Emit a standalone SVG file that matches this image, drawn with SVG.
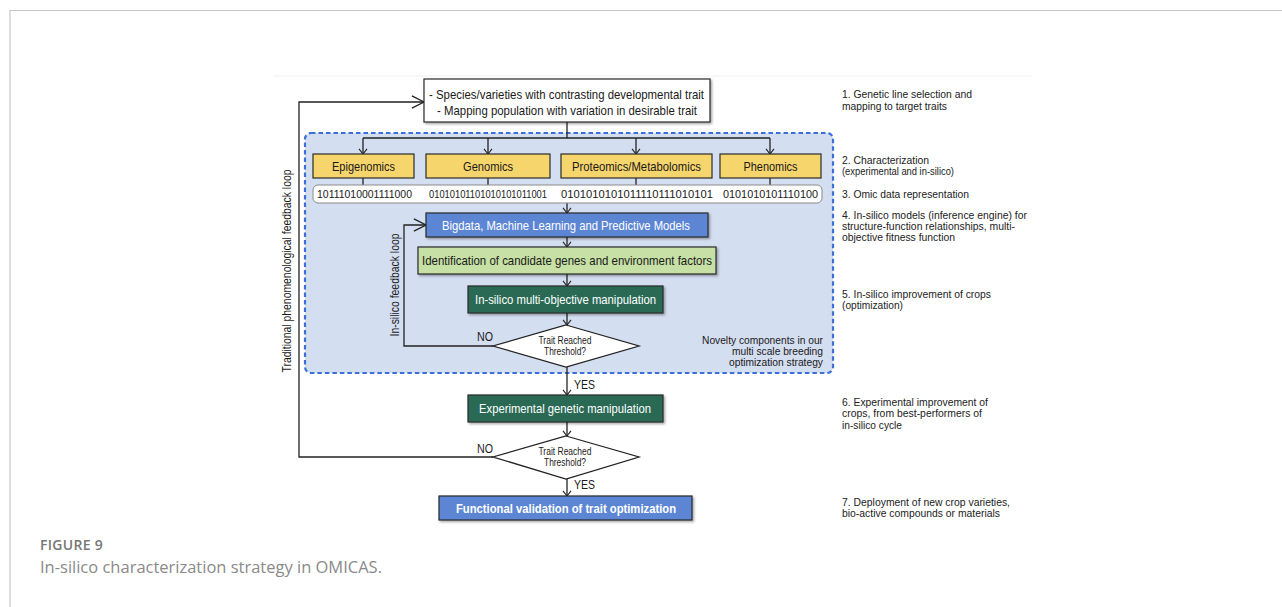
<svg xmlns="http://www.w3.org/2000/svg" width="1282" height="607" viewBox="0 0 1282 607">
<style>
.t{font-family:"Liberation Sans",Arial,sans-serif;fill:#1a1a1a}
.w{font-family:"Liberation Sans",Arial,sans-serif;fill:#ffffff}
.box{stroke:#2a2a2a;stroke-width:1.2}
.ln{fill:none;stroke:#222;stroke-width:1.3}
.side{font-family:"Liberation Sans",Arial,sans-serif;font-size:11px;fill:#222}
</style>
<defs>
<filter id="sh" x="-5%" y="-10%" width="110%" height="130%">
<feDropShadow dx="1.5" dy="1.5" stdDeviation="0.8" flood-color="#000" flood-opacity="0.35"/>
</filter>
<marker id="as" markerUnits="userSpaceOnUse" markerWidth="6" markerHeight="10" viewBox="0 0 6 10" refX="5.6" refY="5" orient="auto">
<path d="M0.5,1 L5.6,5 L0.5,9" fill="none" stroke="#222" stroke-width="1.1"/>
</marker>
<marker id="ab" markerUnits="userSpaceOnUse" markerWidth="13" markerHeight="14" viewBox="0 0 13 14" refX="12.6" refY="7" orient="auto">
<path d="M0.5,0.8 L12.6,7 L0.5,13.2" fill="none" stroke="#222" stroke-width="1.3"/>
</marker>
</defs>
<rect width="1282" height="607" fill="#ffffff"/>
<path d="M10,607 V10.5 H1282" fill="none" stroke="#c8c8c8" stroke-width="1.2"/>
<line x1="273" y1="76" x2="1032" y2="76" stroke="#f0f0f0" stroke-width="1"/>

<g id="novelty-region">
<rect x="305" y="133" width="528" height="240" rx="6" fill="#d4def1" stroke="#3a70d8" stroke-width="2.2" stroke-dasharray="4.5,3"/>
<text class="t" font-size="11" text-anchor="end" x="823" y="344" textLength="121" lengthAdjust="spacingAndGlyphs">Novelty components in our</text>
<text class="t" font-size="11" text-anchor="end" x="823" y="355" textLength="91" lengthAdjust="spacingAndGlyphs">multi scale breeding</text>
<text class="t" font-size="11" text-anchor="end" x="823" y="366" textLength="94" lengthAdjust="spacingAndGlyphs">optimization strategy</text>
</g>

<g id="connectors">
<path class="ln" d="M567,122 V138"/>
<path class="ln" d="M363,138 H770"/>
<path class="ln" d="M363,138 V154" marker-end="url(#as)"/>
<path class="ln" d="M488,138 V154" marker-end="url(#as)"/>
<path class="ln" d="M636,138 V154" marker-end="url(#as)"/>
<path class="ln" d="M770,138 V154" marker-end="url(#as)"/>
<path class="ln" d="M363,178 V185"/>
<path class="ln" d="M488,178 V185"/>
<path class="ln" d="M636,178 V185"/>
<path class="ln" d="M770,178 V185"/>
<path class="ln" d="M567,203 V213" marker-end="url(#as)"/>
<path class="ln" d="M567,237 V247" marker-end="url(#as)"/>
<path class="ln" d="M567,274 V286" marker-end="url(#as)"/>
<path class="ln" d="M567,313 V325" marker-end="url(#as)"/>
<path class="ln" d="M493,346 H404 V225 H426" marker-end="url(#ab)"/>
<path class="ln" d="M567,367 V395" marker-end="url(#as)"/>
<path class="ln" d="M567,422 V436" marker-end="url(#as)"/>
<path class="ln" d="M493,457 H299 V102 H424" marker-end="url(#ab)"/>
<path class="ln" d="M567,479 V496" marker-end="url(#as)"/>
<text class="t" font-size="12" x="477" y="341" textLength="16" lengthAdjust="spacingAndGlyphs">NO</text>
<text class="t" font-size="12" x="574" y="389" textLength="21" lengthAdjust="spacingAndGlyphs">YES</text>
<text class="t" font-size="12" x="477" y="453" textLength="16" lengthAdjust="spacingAndGlyphs">NO</text>
<text class="t" font-size="12" x="574" y="489" textLength="21" lengthAdjust="spacingAndGlyphs">YES</text>
<text class="t" font-size="12" text-anchor="middle" transform="translate(399,285) rotate(-90)" textLength="103" lengthAdjust="spacingAndGlyphs">In-silico feedback loop</text>
<text class="t" font-size="12" text-anchor="middle" transform="translate(291,271) rotate(-90)" textLength="203" lengthAdjust="spacingAndGlyphs">Traditional phenomenological feedback loop</text>
</g>

<g id="genetic-lines">
<rect class="box" x="424" y="79" width="286" height="43" fill="#ffffff" filter="url(#sh)"/>
<text class="t" font-size="13.5" x="429" y="98.5" textLength="275" lengthAdjust="spacingAndGlyphs">- Species/varieties with contrasting developmental trait</text>
<text class="t" font-size="13.5" x="437" y="114.5" textLength="260" lengthAdjust="spacingAndGlyphs">- Mapping population with variation in desirable trait</text>
</g>

<g id="epigenomics">
<rect class="box" x="313" y="154" width="101" height="24" fill="#f7d56d"/>
<text class="t" font-size="13" text-anchor="middle" x="363.5" y="170.5" textLength="63" lengthAdjust="spacingAndGlyphs">Epigenomics</text>
</g>
<g id="genomics">
<rect class="box" x="426" y="154" width="124" height="24" fill="#f7d56d"/>
<text class="t" font-size="13" text-anchor="middle" x="488" y="170.5" textLength="50" lengthAdjust="spacingAndGlyphs">Genomics</text>
</g>
<g id="proteomics">
<rect class="box" x="561" y="154" width="151" height="24" fill="#f7d56d"/>
<text class="t" font-size="13" text-anchor="middle" x="636.5" y="170.5" textLength="129" lengthAdjust="spacingAndGlyphs">Proteomics/Metabolomics</text>
</g>
<g id="phenomics">
<rect class="box" x="720" y="154" width="101" height="24" fill="#f7d56d"/>
<text class="t" font-size="13" text-anchor="middle" x="770.5" y="170.5" textLength="54" lengthAdjust="spacingAndGlyphs">Phenomics</text>
</g>

<g id="omic-data">
<rect x="313" y="185" width="509" height="18" rx="5" fill="#ffffff" stroke="#8a8a8a" stroke-width="1"/>
<text class="t" font-size="10.5" x="317" y="198" textLength="95" lengthAdjust="spacingAndGlyphs">10111010001111000</text>
<text class="t" font-size="10" x="429" y="198" textLength="118" lengthAdjust="spacingAndGlyphs">01010101101010101011001</text>
<text class="t" font-size="10.5" x="561" y="198" textLength="152" lengthAdjust="spacingAndGlyphs">0101010101011110111010101</text>
<text class="t" font-size="10.5" x="723" y="198" textLength="95" lengthAdjust="spacingAndGlyphs">0101010101110100</text>
</g>

<g id="bigdata">
<rect class="box" x="426" y="213" width="282" height="24" fill="#5b86d4" filter="url(#sh)"/>
<text class="w" font-size="13" x="442" y="229.5" textLength="248" lengthAdjust="spacingAndGlyphs">Bigdata, Machine Learning and Predictive Models</text>
</g>

<g id="identification">
<rect class="box" x="418" y="247" width="298" height="27" fill="#c6e0a5" filter="url(#sh)"/>
<text class="t" font-size="13" x="422" y="265" textLength="290" lengthAdjust="spacingAndGlyphs">Identification of candidate genes and environment factors</text>
</g>

<g id="insilico-manipulation">
<rect class="box" x="468" y="286" width="195" height="27" fill="#2b6b55" filter="url(#sh)"/>
<text class="w" font-size="13" x="475" y="304" textLength="181" lengthAdjust="spacingAndGlyphs">In-silico multi-objective manipulation</text>
</g>

<g id="threshold-1">
<polygon points="566,325 639,346 566,367 493,346" fill="#ffffff" stroke="#222" stroke-width="1.3"/>
<text class="t" font-size="10" text-anchor="middle" x="565" y="344" textLength="53" lengthAdjust="spacingAndGlyphs">Trait Reached</text>
<text class="t" font-size="10" text-anchor="middle" x="565" y="354.5" textLength="42" lengthAdjust="spacingAndGlyphs">Threshold?</text>
</g>

<g id="experimental-manipulation">
<rect class="box" x="468" y="395" width="195" height="27" fill="#2b6b55" filter="url(#sh)"/>
<text class="w" font-size="13" x="479" y="413" textLength="172" lengthAdjust="spacingAndGlyphs">Experimental genetic manipulation</text>
</g>

<g id="threshold-2">
<polygon points="566,436 639,457 566,479 493,457" fill="#ffffff" stroke="#222" stroke-width="1.3"/>
<text class="t" font-size="10" text-anchor="middle" x="565" y="455" textLength="53" lengthAdjust="spacingAndGlyphs">Trait Reached</text>
<text class="t" font-size="10" text-anchor="middle" x="565" y="465.5" textLength="42" lengthAdjust="spacingAndGlyphs">Threshold?</text>
</g>

<g id="functional-validation">
<rect class="box" x="439" y="496" width="253" height="24" fill="#5b86d4" filter="url(#sh)"/>
<text class="w" font-size="13" font-weight="bold" x="456" y="512.5" textLength="220" lengthAdjust="spacingAndGlyphs">Functional validation of trait optimization</text>
</g>

<g id="stage-labels">
<text class="side" x="842" y="98" textLength="130" lengthAdjust="spacingAndGlyphs">1. Genetic line selection and</text>
<text class="side" x="842" y="109.5" textLength="105" lengthAdjust="spacingAndGlyphs">mapping to target traits</text>
<text class="side" x="842" y="163.5" textLength="87" lengthAdjust="spacingAndGlyphs">2. Characterization</text>
<text class="side" x="842" y="175" textLength="112" lengthAdjust="spacingAndGlyphs">(experimental and in-silico)</text>
<text class="side" x="842" y="197.5" textLength="127" lengthAdjust="spacingAndGlyphs">3. Omic data representation</text>
<text class="side" x="842" y="218.5" textLength="185" lengthAdjust="spacingAndGlyphs">4. In-silico models (inference engine) for</text>
<text class="side" x="842" y="229.5" textLength="173" lengthAdjust="spacingAndGlyphs">structure-function relationships, multi-</text>
<text class="side" x="842" y="240.5" textLength="113" lengthAdjust="spacingAndGlyphs">objective fitness function</text>
<text class="side" x="842" y="297.5" textLength="149" lengthAdjust="spacingAndGlyphs">5. In-silico improvement of crops</text>
<text class="side" x="842" y="308.5" textLength="61" lengthAdjust="spacingAndGlyphs">(optimization)</text>
<text class="side" x="842" y="405.5" textLength="146" lengthAdjust="spacingAndGlyphs">6. Experimental improvement of</text>
<text class="side" x="842" y="417" textLength="140" lengthAdjust="spacingAndGlyphs">crops, from best-performers of</text>
<text class="side" x="842" y="428.5" textLength="60" lengthAdjust="spacingAndGlyphs">in-silico cycle</text>
<text class="side" x="842" y="505.5" textLength="168" lengthAdjust="spacingAndGlyphs">7. Deployment of new crop varieties,</text>
<text class="side" x="842" y="517" textLength="158" lengthAdjust="spacingAndGlyphs">bio-active compounds or materials</text>
</g>

<g id="caption">
<text x="40" y="550" font-family="'Open Sans',sans-serif" font-size="14" font-weight="600" fill="#777777" letter-spacing="0.3">FIGURE 9</text>
<text x="40" y="573" font-family="'Open Sans',sans-serif" font-size="17" fill="#8a8a8a" textLength="342" lengthAdjust="spacingAndGlyphs">In-silico characterization strategy in OMICAS.</text>
</g>
</svg>
